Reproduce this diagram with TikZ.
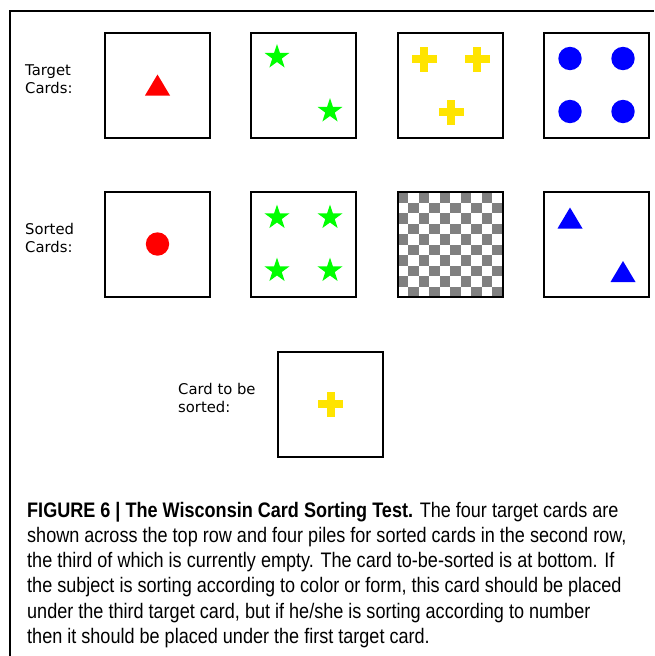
\documentclass[tikz,border=0pt]{standalone}
\usepackage{fontspec}
\setmainfont{DejaVu Sans}
\newfontfamily\capfont[FakeStretch=0.86]{Liberation Sans}
\usetikzlibrary{shapes.geometric}
\definecolor{wcyellow}{RGB}{255,228,0}
\definecolor{wcgray}{RGB}{128,128,128}

\begin{document}
\begin{tikzpicture}[x=1pt,y=-1pt,
    card/.style={draw,line width=2pt,minimum size=105pt,inner sep=0pt},
    lbl/.style={align=left,inner sep=0pt,anchor=base west,font=\fontsize{14.8}{18}\selectfont},
    capline/.style={anchor=base west,inner sep=0pt,font=\capfont\fontsize{21}{25}\selectfont},
    tri/.pic={\fill (-12.5,10.5) -- (12.5,10.5) -- (0,-10.5) -- cycle;},
    dot/.pic={\fill (0,0) circle (11.7);},
    plus/.pic={\fill (-12.5,-4) rectangle (12.5,4); \fill (-4,-12.5) rectangle (4,12.5);},
    starpic/.pic={\node[star,star points=5,star point ratio=2.6,fill,minimum size=26pt,inner sep=0pt] {};}]
  \useasboundingbox (0,0) rectangle (654,656);

  % Frame
  \draw[line width=1.2pt] (10,656) -- (10,11) -- (654,11);

  % Empty pile: checkerboard
  \foreach \i in {0,...,9}
    \foreach \j in {0,2,...,8}
      \fill[wcgray] ({397.5+10.5*(\j+mod(\i,2))},{192+10.5*\i}) rectangle ++(10.5,10.5);

  % Target cards
  \node[card] (t1) at (157.5,85) {};
  \node[card] (t2) at (303.5,85) {};
  \node[card] (t3) at (450,85) {};
  \node[card] (t4) at (596.5,85) {};

  % Sorted cards
  \node[card] (s1) at (157.5,244) {};
  \node[card] (s2) at (303.5,244) {};
  \node[card] (s3) at (450,244) {};
  \node[card] (s4) at (596.5,244) {};

  % Card to be sorted
  \node[card] (next) at (330.5,404) {};

  % Symbols
  \pic[red] at (t1) {tri};
  \pic[green] at ([shift={(-26.5,-28)}]t2.center) {starpic};
  \pic[green] at ([shift={(26.5,26)}]t2.center) {starpic};
  \pic[wcyellow] at ([shift={(-26,-26)}]t3.center) {plus};
  \pic[wcyellow] at ([shift={(27,-26)}]t3.center) {plus};
  \pic[wcyellow] at ([shift={(1,27)}]t3.center) {plus};
  \foreach \dx/\dy in {-26.5/-26.5,26.5/-26.5,-26.5/26.5,26.5/26.5}
    \pic[blue] at ([shift={(\dx,\dy)}]t4.center) {dot};

  \pic[red] at (s1) {dot};
  \foreach \dx/\dy in {-26.5/-26.5,26.5/-26.5,-26.5/26.5,26.5/26.5}
    \pic[green] at ([shift={(\dx,\dy)}]s2.center) {starpic};
  \pic[blue] at ([shift={(-26.5,-26)}]s4.center) {tri};
  \pic[blue] at ([shift={(26.5,27.5)}]s4.center) {tri};

  \pic[wcyellow] at (next) {plus};

  % Labels (anchored on the last line)
  \node[lbl] (tlbl) at (25,93) {Target\\Cards:};
  \node[lbl] (slbl) at (25,252) {Sorted\\Cards:};
  \node[lbl] (nlbl) at (178,412) {Card to be\\sorted:};

  % Caption
  \node[capline] (cap1) at (27,517) {\textbf{FIGURE 6 | The Wisconsin Card Sorting Test.} The four target cards are};
  \node[capline] (cap2) at (27,542.3) {shown across the top row and four piles for sorted cards in the second row,};
  \node[capline] (cap3) at (27,567.6) {the third of which is currently empty. The card to-be-sorted is at bottom. If};
  \node[capline] (cap4) at (27,592.9) {the subject is sorting according to color or form, this card should be placed};
  \node[capline] (cap5) at (27,618.2) {under the third target card, but if he/she is sorting according to number};
  \node[capline] (cap6) at (27,643.5) {then it should be placed under the first target card.};
\end{tikzpicture}
\end{document}
